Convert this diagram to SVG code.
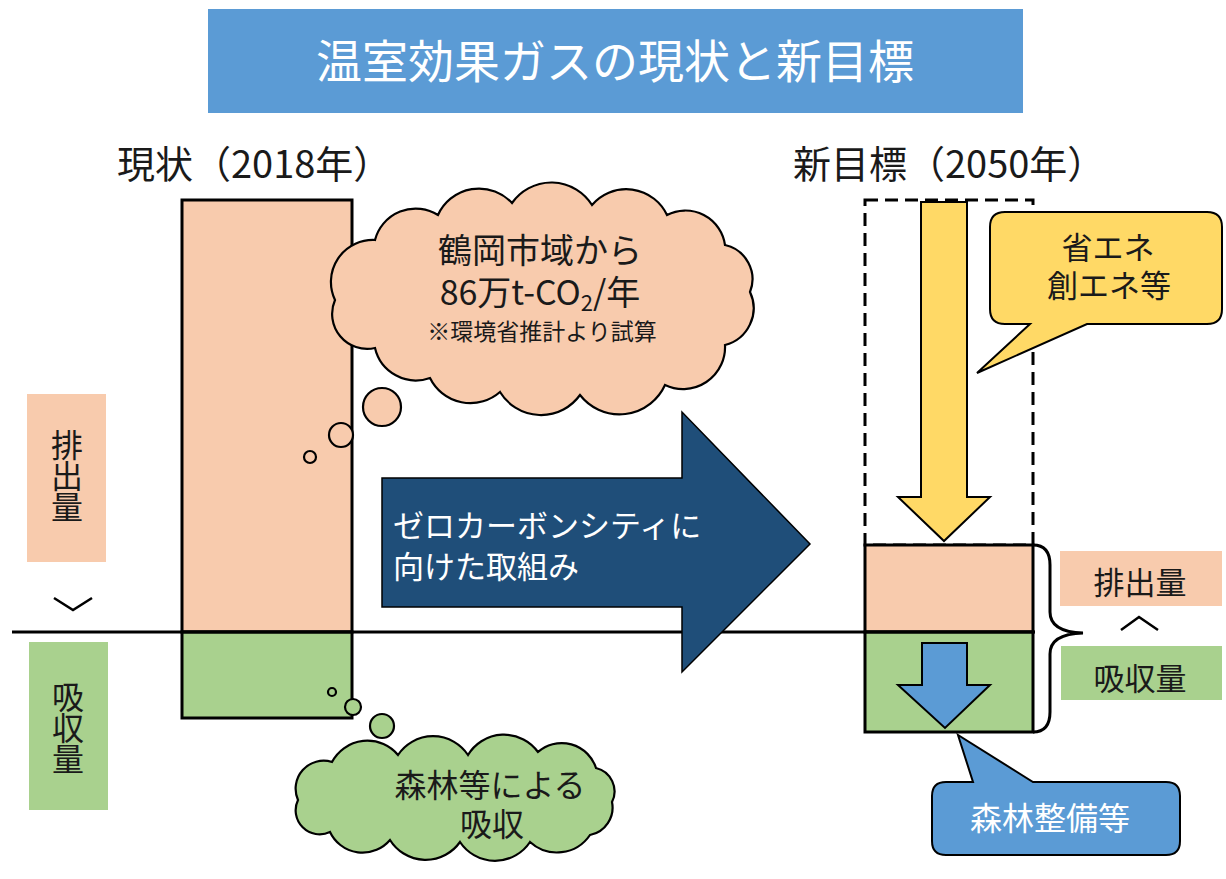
<svg xmlns="http://www.w3.org/2000/svg" width="1226" height="879" viewBox="0 0 1226 879">
<style>
text{font-family:"Noto Sans CJK JP","Noto Sans",sans-serif;fill:#1a1a1a}
.w{fill:#ffffff}
.ol{stroke:#000;stroke-width:3}
.or{fill:#F8CBAD}
.gr{fill:#A9D18E}
.th{stroke:#000;stroke-width:2.2}
.v{writing-mode:vertical-rl;letter-spacing:-1px}
</style>
<rect width="1226" height="879" fill="#ffffff"/>
<g id="title">
<rect x="208" y="9" width="815" height="104" fill="#5B9BD5"/>
<text x="615" y="78" font-size="46" text-anchor="middle" class="w">温室効果ガスの現状と新目標</text>
</g>
<g id="header-now"><text x="117" y="178" font-size="38">現状（2018年）</text></g>
<g id="header-goal"><text x="793" y="178" font-size="38">新目標（2050年）</text></g>
<g id="label-left-emission">
<rect x="27" y="394" width="79" height="168" class="or"/>
<text x="67" y="429" font-size="32" class="v">排出量</text>
</g>
<polyline points="54,598 73,610 92,598" fill="none" stroke="#000" stroke-width="2.5"/>
<g id="label-left-absorb">
<rect x="29" y="642" width="79" height="168" class="gr"/>
<text x="68" y="681" font-size="32" class="v">吸収量</text>
</g>
<g id="bar-now">
<rect x="182" y="200" width="170" height="432" class="or ol"/>
<rect x="182" y="632" width="170" height="86" class="gr ol"/>
</g>
<g id="bar-goal">
<rect x="865" y="200" width="168" height="345" fill="none" stroke="#000" stroke-width="3" stroke-dasharray="13,7"/>
<rect x="865" y="545" width="168" height="87" class="or ol"/>
<rect x="865" y="632" width="168" height="100" class="gr ol"/>
</g>
<g id="connectors">
<line x1="12" y1="632" x2="1035" y2="632" stroke="#000" stroke-width="3"/>
<path d="M1033,545 Q1050,545 1050,565 L1050,612 Q1050,632 1083,633 Q1050,634 1050,654 L1050,712 Q1050,732 1033,732" fill="none" stroke="#000" stroke-width="3"/>
</g>
<g id="cloud-emission">
<circle cx="310" cy="457" r="6" class="or th"/>
<circle cx="341" cy="435" r="12" class="or th"/>
<circle cx="382" cy="407" r="19" class="or th"/>
<path d="M 335,300 A 42,42 0 0 1 375,240 A 42,42 0 0 1 438,215 A 45,45 0 0 1 512,203 A 48,48 0 0 1 592,205 A 45,45 0 0 1 667,215 A 40,40 0 0 1 725,245 A 35,35 0 0 1 750,292 A 38,38 0 0 1 725,345 A 42,42 0 0 1 665,385 A 50,50 0 0 1 580,395 A 48,48 0 0 1 500,392 A 45,45 0 0 1 430,378 A 42,42 0 0 1 375,348 A 35,35 0 0 1 335,300 Z" class="or th"/>
<text font-size="34" text-anchor="middle"><tspan x="540" y="263">鶴岡市域から</tspan><tspan x="540" y="305">86万t-CO<tspan font-size="22" dy="6">2</tspan><tspan dy="-6">/年</tspan></tspan><tspan x="542" y="340" font-size="23">※環境省推計より試算</tspan></text>
</g>
<g id="cloud-absorb">
<circle cx="332" cy="692" r="4" class="gr th"/>
<circle cx="353" cy="707" r="8" class="gr th"/>
<circle cx="382" cy="726" r="12" class="gr th"/>
<path d="M 298,800 A 28,28 0 0 1 332,762 A 40,40 0 0 1 398,755 A 42,42 0 0 1 468,755 A 42,42 0 0 1 538,752 A 36,36 0 0 1 596,768 A 24,24 0 0 1 612,802 A 28,28 0 0 1 590,835 A 40,40 0 0 1 530,842 A 42,42 0 0 1 460,842 A 42,42 0 0 1 390,840 A 36,36 0 0 1 330,832 A 24,24 0 0 1 298,800 Z" class="gr th"/>
<text font-size="32" text-anchor="middle"><tspan x="490" y="797">森林等による</tspan><tspan x="492" y="836">吸収</tspan></text>
</g>
<g id="arrow-zero-carbon">
<path d="M382,478 L682,478 L682,412 L810,544 L682,672 L682,607 L382,607 Z" fill="#1F4E79" stroke="#000" stroke-width="1.5"/>
<text font-size="31" class="w"><tspan x="393" y="537">ゼロカーボンシティに</tspan><tspan x="393" y="578">向けた取組み</tspan></text>
</g>
<g id="arrow-reduce">
<path d="M921,202 L967,202 L967,497 L990,497 L944,541 L898,497 L921,497 Z" fill="#FFD966" stroke="#000" stroke-width="2"/>
</g>
<g id="callout-energy">
<path d="M1005,212 L1207,212 Q1222,212 1222,227 L1222,309 Q1222,324 1207,324 L1087,324 L977,373 L1030,324 L1005,324 Q990,324 990,309 L990,227 Q990,212 1005,212 Z" fill="#FFD966" stroke="#000" stroke-width="2"/>
<text font-size="31" text-anchor="middle"><tspan x="1108" y="259">省エネ</tspan><tspan x="1109" y="297">創エネ等</tspan></text>
</g>
<g id="arrow-forest">
<path d="M922,643 L967,643 L967,685 L990,685 L945,728 L898,685 L922,685 Z" fill="#5B9BD5" stroke="#000" stroke-width="2"/>
</g>
<g id="callout-forest">
<path d="M946,782 L973,782 L958,735 L1033,782 L1166,782 Q1180,782 1180,796 L1180,841 Q1180,855 1166,855 L946,855 Q932,855 932,841 L932,796 Q932,782 946,782 Z" fill="#5B9BD5" stroke="#000" stroke-width="2"/>
<text x="1050" y="830" font-size="32" text-anchor="middle" class="w">森林整備等</text>
</g>
<g id="label-right-emission">
<rect x="1060" y="551" width="162" height="55" class="or"/>
<text x="1140" y="594" font-size="31" text-anchor="middle">排出量</text>
</g>
<polyline points="1121,630 1139,617 1158,630" fill="none" stroke="#000" stroke-width="2.5"/>
<g id="label-right-absorb">
<rect x="1061" y="646" width="161" height="54" class="gr"/>
<text x="1140" y="690" font-size="31" text-anchor="middle">吸収量</text>
</g>
</svg>
